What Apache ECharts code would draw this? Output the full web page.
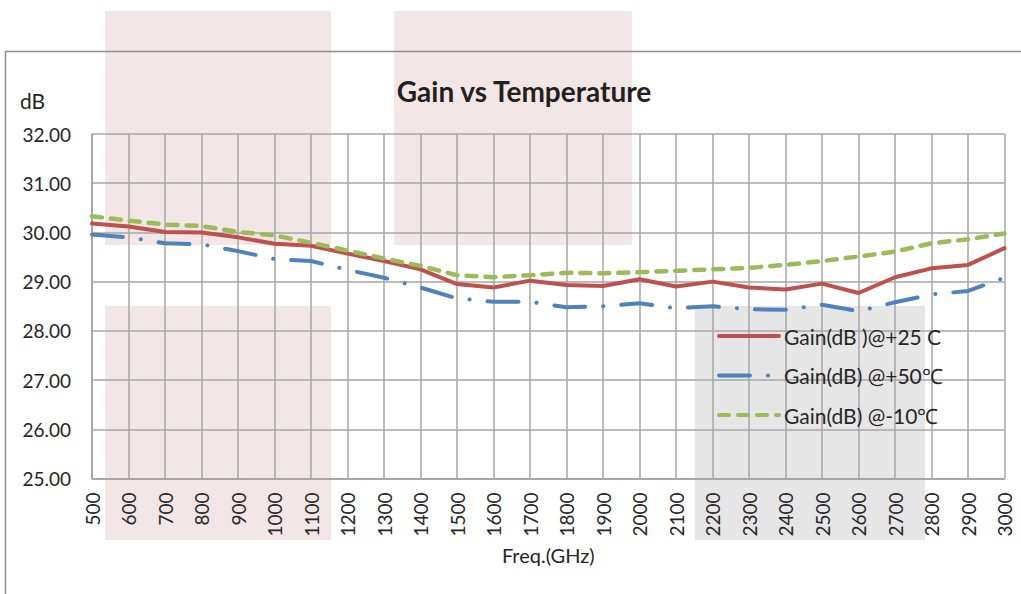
<!DOCTYPE html>
<html>
<head>
<meta charset="utf-8">
<script src="https://cdn.jsdelivr.net/npm/echarts@6/dist/echarts.min.js"></script>
<style>
html,body{margin:0;padding:0;background:#fff;}
#chart{width:1021px;height:594px;}
</style>
</head>
<body>
<div id="chart"></div>
<script>
var categories = ['500','600','700','800','900','1000','1100','1200','1300','1400','1500','1600','1700','1800','1900','2000','2100','2200','2300','2400','2500','2600','2700','2800','2900','3000'];
var gain25 = [30.18,30.12,30.01,30.00,29.90,29.77,29.73,29.57,29.42,29.25,28.95,28.88,29.02,28.93,28.91,29.05,28.90,29.00,28.88,28.84,28.96,28.77,29.09,29.27,29.34,29.68];
var gain50 = [29.96,29.90,29.78,29.76,29.62,29.46,29.42,29.24,29.08,28.88,28.66,28.59,28.59,28.48,28.50,28.56,28.46,28.50,28.44,28.43,28.53,28.40,28.58,28.74,28.81,29.08];
var gainM10 = [30.33,30.24,30.16,30.13,30.01,29.94,29.79,29.63,29.47,29.32,29.13,29.09,29.13,29.18,29.17,29.19,29.22,29.25,29.28,29.34,29.42,29.51,29.61,29.78,29.86,29.98];
var seriesNames = ['Gain(dB )@+25 C','Gain(dB) @+50\u2103','Gain(dB) @-10\u2103'];
var titleText = 'Gain vs Temperature';
var yName = 'dB';
var xName = 'Freq.(GHz)';

var chart = echarts.init(document.getElementById('chart'), null, {renderer:'svg'});
var FONT = 'Lato, "Open Sans", sans-serif';
var option = {
  backgroundColor:'#ffffff',
  animation:false,
  graphic:[
    {type:'rect', z:-10, shape:{x:105,y:11,width:226,height:234}, style:{fill:'#F3E6E7'}},
    {type:'rect', z:-10, shape:{x:394,y:11,width:238,height:234}, style:{fill:'#F3E6E7'}},
    {type:'rect', z:-10, shape:{x:105,y:306,width:226,height:234}, style:{fill:'#F3E6E7'}},
    {type:'rect', z:-10, shape:{x:695,y:306,width:230,height:234}, style:{fill:'#E6E6E6'}},
    {type:'rect', z:-5, shape:{x:5.5,y:51.5,width:1100,height:700}, style:{fill:'none',stroke:'#8C8C8C',lineWidth:1.5}},
    {type:'text', z:10, x:524, y:91, style:{text:titleText, fontFamily:FONT, fontWeight:'bold', fontSize:28, fill:'#231F20', align:'center', verticalAlign:'middle'}},
    {type:'text', z:10, x:20, y:100, style:{text:yName, fontFamily:FONT, fontSize:21, fill:'#262626', align:'left', verticalAlign:'middle'}}
  ],
  grid:{left:92, right:16.5, top:134, bottom:115.5, containLabel:false},
  legend:{
    show:true, orient:'vertical', left:712, top:320.5,
    itemWidth:60, itemHeight:14, itemGap:18.5,
    itemStyle:{opacity:0},
    lineStyle:{width:4, cap:'round'},
    textStyle:{fontFamily:FONT, fontSize:21, color:'#262626'},
    data:seriesNames
  },
  xAxis:{
    type:'category', data:categories, boundaryGap:false,
    name:xName, nameLocation:'middle', nameGap:66,
    nameTextStyle:{fontFamily:FONT, fontSize:20, color:'#262626'},
    axisLine:{show:true, lineStyle:{color:'#A0A0A0', width:1.5}},
    axisTick:{show:false},
    axisLabel:{interval:0, rotate:90, margin:14, fontFamily:FONT, fontSize:19, color:'#262626'},
    splitLine:{show:true, interval:0, lineStyle:{color:'#A6A6A6', width:1.5}}
  },
  yAxis:{
    type:'value', min:25, max:32, interval:1,
    axisLine:{show:true, lineStyle:{color:'#A0A0A0', width:1.5}},
    axisTick:{show:false},
    axisLabel:{margin:21, fontFamily:FONT, fontSize:19, color:'#262626', formatter:function(v){return v.toFixed(2);}},
    splitLine:{show:true, lineStyle:{color:'#A6A6A6', width:1.5}}
  },
  series:[
    {name:seriesNames[0], type:'line', data:gain25, symbol:'none', color:'#C0504D',
     lineStyle:{color:'#C0504D', width:4, cap:'round', join:'round'}},
    {name:seriesNames[1], type:'line', data:gain50, symbol:'none', color:'#4F81BD',
     lineStyle:{color:'#4F81BD', width:4, type:[31,18,0.1,18], cap:'round', join:'round'}},
    {name:seriesNames[2], type:'line', data:gainM10, symbol:'none', color:'#9BBB59',
     lineStyle:{color:'#9BBB59', width:4.5, type:[10,9], cap:'round', join:'round'}}
  ]
};
chart.setOption(option);
</script>
</body>
</html>
